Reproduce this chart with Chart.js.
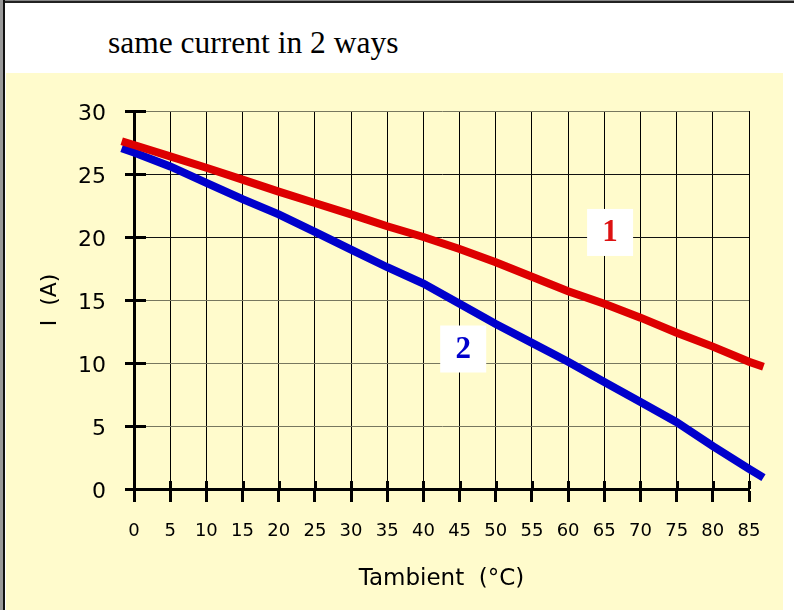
<!DOCTYPE html>
<html>
<head>
<meta charset="utf-8">
<script src="https://cdn.jsdelivr.net/npm/chart.js@4.4.0/dist/chart.umd.min.js"></script>
<style>
  body { margin: 0; background: #fff; }
  #wrap { position: relative; width: 794px; height: 610px; overflow: hidden; }
  #yellow { position: absolute; left: 6px; top: 73px; width: 777px; height: 537px; background: #fffbcc; }
  #topline { position: absolute; left: 0; top: 0; width: 794px; height: 3px; background: #222; border-top: 1px solid #888; box-sizing: border-box; }
  #leftline { position: absolute; left: 0; top: 0; width: 5px; height: 610px; background: #111; border-left: 3px solid #999; box-sizing: border-box; }
  #title { position: absolute; left: 108px; top: 27px; font: 31.5px "Liberation Serif", serif; line-height: 1; color: #000; white-space: nowrap; }
  canvas { position: absolute; left: 0; top: 0; }
</style>
</head>
<body>
<div id="wrap">
  <div id="yellow"></div>
  <div id="topline"></div>
  <div id="leftline"></div>
  <div id="title">same current in 2 ways</div>
  <canvas id="myChart" width="794" height="610"></canvas>
</div>
<script>
// temperatures (°C), the lines run a bit past both ends of the axis
const tAmbient = [-1.7, 0, 5, 10, 15, 20, 25, 30, 35, 40, 45, 50, 55, 60, 65, 70, 75, 80, 85, 87];
const current1 = [27.6, 27.3, 26.4, 25.5, 24.55, 23.6, 22.7, 21.8, 20.85, 20.0, 19.05, 18.0, 16.85, 15.7, 14.7, 13.6, 12.4, 11.3, 10.1, 9.7];
const current2 = [27.05, 26.7, 25.6, 24.3, 23.0, 21.8, 20.4, 19.0, 17.6, 16.3, 14.7, 13.1, 11.6, 10.1, 8.5, 6.9, 5.3, 3.4, 1.6, 0.9];
// curve labels, placed in data units
const curveNames = ['1', '2'];
const curveLabelX = [65.8, 45.5];
const curveLabelY = [20.4, 11.15];
const curveColors = ['#dd1111', '#0000cc'];
// axis range shown
const xRange = [0, 85];
const yRange = [0, 30];

const toPoints = ys => tAmbient.map((t, i) => ({x: t, y: ys[i]}));

const decor = {
    id: 'decor',
    afterDraw(chart) {
        const {ctx, chartArea: a, scales: {x, y}} = chart;
        ctx.save();
        ctx.strokeStyle = '#000';
        ctx.lineWidth = 3;
        ctx.beginPath();
        y.ticks.forEach(t => {
            const p = Math.round(y.getPixelForValue(t.value)) + 0.5;
            ctx.moveTo(a.left, p); ctx.lineTo(a.left + 12, p);
        });
        x.ticks.forEach(t => {
            const p = Math.round(x.getPixelForValue(t.value)) + 0.5;
            ctx.moveTo(p, a.bottom); ctx.lineTo(p, a.bottom - 8);
        });
        ctx.stroke();

        ctx.font = 'bold 31px "Liberation Serif", serif';
        ctx.textAlign = 'center';
        ctx.textBaseline = 'middle';
        curveNames.forEach((n, i) => {
            const cx = x.getPixelForValue(curveLabelX[i]);
            const cy = y.getPixelForValue(curveLabelY[i]);
            ctx.fillStyle = '#fff';
            ctx.fillRect(cx - 23, cy - 23, 46, 47);
            ctx.fillStyle = curveColors[i];
            ctx.fillText(n, cx, cy + 1);
        });
        ctx.restore();
    }
};

const myChart = new Chart(document.getElementById('myChart'), {
    type: 'line',
    data: {
        datasets: [{
            label: '1',
            data: toPoints(current1),
            borderColor: '#dd0000',
            borderWidth: 8,
            pointRadius: 0,
            clip: false
        }, {
            label: '2',
            data: toPoints(current2),
            borderColor: '#0000cc',
            borderWidth: 8,
            pointRadius: 0,
            clip: false
        }]
    },
    options: {
        responsive: false,
        animation: false,
        layout: { padding: { top: 111, right: 45, left: 0, bottom: 0 } },
        plugins: { legend: { display: false }, tooltip: { enabled: false } },
        scales: {
            x: {
                type: 'linear',
                // range set here so the line keeps its points past the ends
                afterDataLimits: s => { s.min = xRange[0]; s.max = xRange[1]; },
                afterFit: s => { s.height = 121; },
                ticks: { stepSize: 5, padding: 19, color: '#000', font: { family: 'DejaVu Sans', size: 18 } },
                grid: { color: '#000', lineWidth: 1, tickColor: '#000', tickWidth: 3, tickLength: 13 },
                border: { color: '#000', width: 3 },
                title: { display: true, text: 'Tambient  (°C)', color: '#000', font: { family: 'DejaVu Sans', size: 23 }, padding: { top: 0, bottom: 17 } }
            },
            y: {
                afterDataLimits: s => { s.min = yRange[0]; s.max = yRange[1]; },
                afterFit: s => { s.width = 134; },
                ticks: { stepSize: 5, padding: 19, labelOffset: 3, color: '#000', font: { family: 'DejaVu Sans', size: 22 } },
                grid: {
                    color: c => (c.tick && (c.tick.value === 20 || c.tick.value === 25)) ? '#111' : '#77775f',
                    lineWidth: 1, tickColor: '#000', tickWidth: 3, tickLength: 9
                },
                border: { color: '#000', width: 3 },
                title: { display: true, text: 'I  (A)', color: '#000', font: { family: 'DejaVu Sans', size: 22 }, padding: { top: 37, bottom: 0 } }
            }
        }
    },
    plugins: [decor]
});
</script>
</body>
</html>
